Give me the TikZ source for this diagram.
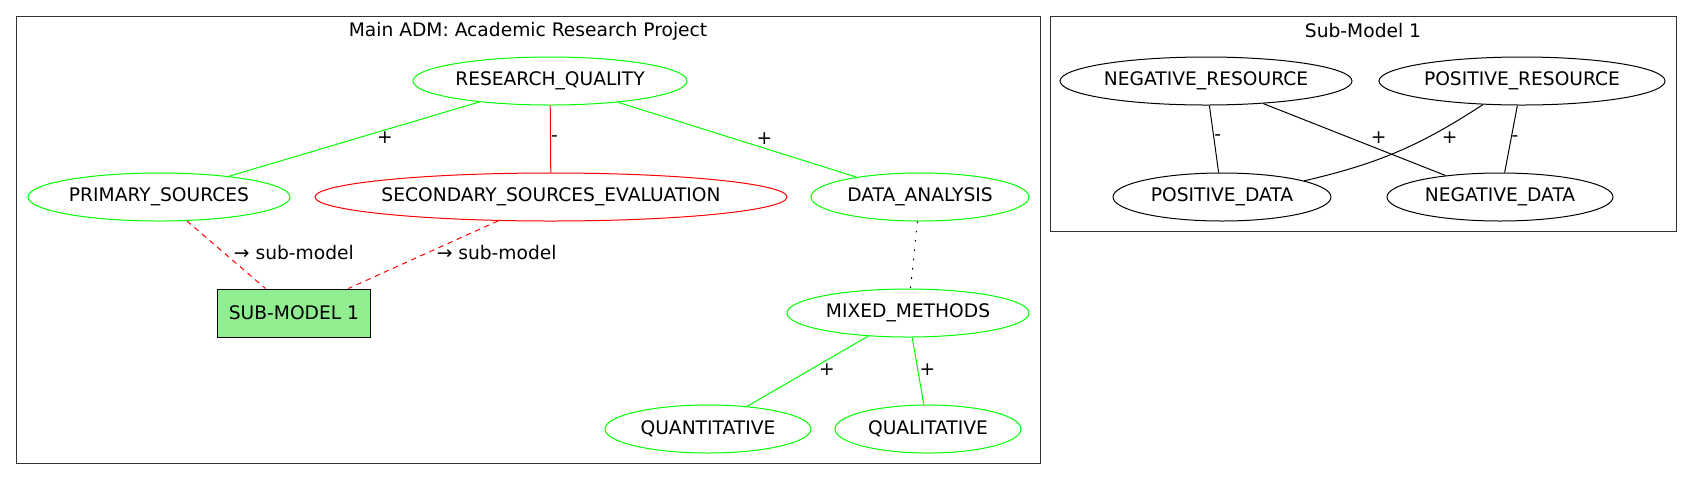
\documentclass[tikz,border=0pt]{standalone}
\usepackage{fontspec}
\setmainfont{DejaVu Sans}
\usepackage{tikz}
\usetikzlibrary{shapes, positioning, calc}
\definecolor{vgreen}{rgb}{0, 1, 0}
\definecolor{vred}{rgb}{1, 0, 0}
\definecolor{lightgreen}{rgb}{0.565, 0.933, 0.565}

\begin{document}
\begin{tikzpicture}[x=0.75pt, y=-0.75pt, line width=0.75pt,
		every node/.style={font=\fontsize{14}{17}\selectfont, text=black},
		plainvar/.style={ellipse, draw, inner sep=0pt, minimum height=36pt},
		greenvar/.style={plainvar, draw=vgreen},
		redvar/.style={plainvar, draw=vred},
		subbox/.style={rectangle, draw, fill=lightgreen, minimum width=114.75pt, minimum height=36pt},
		cluster/.style={draw=black!80, line width=0.75pt},
		lbl/.style={inner sep=0pt},
		plusedge/.style={draw=vgreen},
		minusedge/.style={draw=vred},
		linkedge/.style={draw=vred, dash pattern=on 4pt off 3.5pt},
		dotedge/.style={draw=black, dash pattern=on 1.2pt off 5.8pt}]
		\useasboundingbox (0,0) rectangle (1692,480);
		
		\draw[cluster] (16,16) rectangle (1040,463);
		\node (maintitle) at (528,31) {Main ADM: Academic Research Project};
		
		\node[greenvar, minimum width=205.5pt] (quality) at (550,81) {RESEARCH\_QUALITY};
		\node[greenvar, minimum width=196.5pt] (primary) at (159,197) {PRIMARY\_SOURCES};
		\node[redvar, minimum width=354pt, inner xsep=-4.5pt] (secondary) at (551,197) {SECONDARY\_SOURCES\_EVALUATION};
		\node[greenvar, minimum width=163.5pt] (analysis) at (920,197) {DATA\_ANALYSIS};
		\node[greenvar, minimum width=181.5pt] (mixed) at (908,313) {MIXED\_METHODS};
		\node[greenvar, minimum width=154.5pt] (quant) at (708,429) {QUANTITATIVE};
		\node[greenvar, minimum width=139.5pt] (qual) at (928,429) {QUALITATIVE};
		\node[subbox] (submodel) at (294,313) {SUB-MODEL 1};
		
		\draw[plusedge] (quality) -- node[lbl, pos=.377, below=1pt] (lqp) {+} (primary);
		\draw[minusedge] (quality) -- node[lbl, pos=.5, right=0pt] (lqs) {-} (secondary);
		\draw[plusedge] (quality) -- node[lbl, pos=.614, above=2.5pt] (lqa) {+} (analysis);
		\draw[dotedge] (analysis) -- (mixed);
		\draw[plusedge] (mixed) -- node[lbl, pos=.481, right=6.5pt] (lmn) {+} (quant);
		\draw[plusedge] (mixed) -- node[lbl, pos=.479, right=1pt] (lml) {+} (qual);
		\draw[linkedge] (primary) -- node[lbl, pos=.474, right=7pt] (lps) {→ sub-model} (submodel);
		\draw[linkedge] (secondary) -- node[lbl, pos=.475, right=7pt] (lss) {→ sub-model} (submodel);
		
		\draw[cluster] (1050,16) rectangle (1676,231);
		\node (subtitle) at (1363,31) {Sub-Model 1};
		
		\node[plainvar, minimum width=219pt] (negres) at (1206,81) {NEGATIVE\_RESOURCE};
		\node[plainvar, minimum width=214.5pt] (posres) at (1522,81) {POSITIVE\_RESOURCE};
		\node[plainvar, minimum width=163.5pt] (posdata) at (1222,197) {POSITIVE\_DATA};
		\node[plainvar, minimum width=169.5pt] (negdata) at (1500,197) {NEGATIVE\_DATA};
		
		\draw (negres) -- node[lbl, pos=.485, right=0pt] (lnp) {-} (posdata);
		\draw (negres) -- node[lbl, pos=.634, above=4pt] (lnn) {+} (negdata);
		\draw (posres) to[bend left=10] node[lbl, pos=.25, anchor=north west, xshift=2pt] (lpp) {+} (posdata);
		\draw (posres) -- node[lbl, pos=.49, right=0pt] (lpn) {-} (negdata);
\end{tikzpicture}
\end{document}
